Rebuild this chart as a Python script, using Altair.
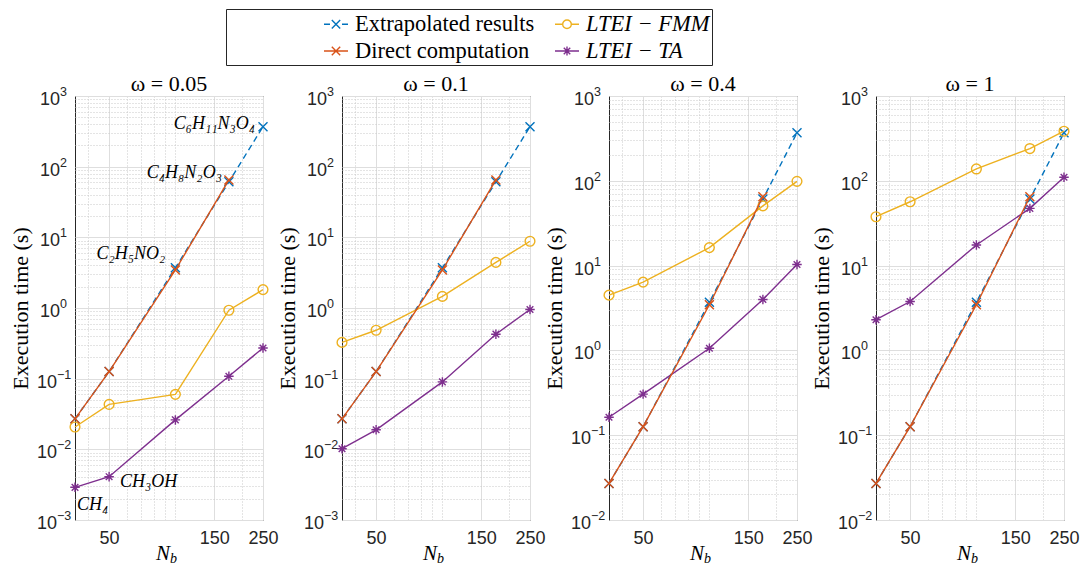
import altair as alt
import pandas as pd

# ---------------- data ----------------
nb = [35, 50, 100, 175, 250]
x_ticks = [50, 150, 250]
x_minor = [40, 60, 70, 80, 90, 100, 200]
molecules = ["CH₄", "CH₃OH", "C₂H₅NO₂", "C₄H₈N₂O₃", "C₆H₁₁N₃O₄"]
omegas = ["0.05", "0.1", "0.4", "1"]
y_exponents = [[-3, -2, -1, 0, 1, 2, 3], [-3, -2, -1, 0, 1, 2, 3],
               [-2, -1, 0, 1, 2, 3], [-2, -1, 0, 1, 2, 3]]
series_names = ["Extrapolated results", "Direct computation", "LTEI − FMM", "LTEI − TA"]

extrapolated = [0.027, 0.126, 3.7, 61, 368]
direct = [0.027, 0.126, 3.45, 65]

fmm_005 = [0.0207, 0.0432, 0.060, 0.93, 1.82]
fmm_01 = [0.326, 0.484, 1.46, 4.42, 8.8]
fmm_04 = [4.48, 6.38, 16.3, 50.6, 98.6]
fmm_1 = [37.7, 56.6, 138, 240, 384]

ta_005 = [0.0029, 0.0041, 0.0261, 0.108, 0.272]
ta_01 = [0.0102, 0.0189, 0.090, 0.426, 0.953]
ta_04 = [0.163, 0.305, 1.06, 3.99, 10.3]
ta_1 = [2.3, 3.77, 17.5, 47.3, 110]

fmm_all = [fmm_005, fmm_01, fmm_04, fmm_1]
ta_all = [ta_005, ta_01, ta_04, ta_1]

# ---------------- style ----------------
BLUE, RED, YEL, PUR = "#0072BD", "#D95319", "#EDB120", "#7E2F8E"
W, H = 188, 424
SERIF = "Liberation Serif"
SANS = "Liberation Sans"
LABEL_COLOR = "#262626"

X_PATH = "M-1,-1L1,1M-1,1L1,-1"
STAR_PATH = "M-1,0L1,0M0,-1L0,1M-0.7,-0.7L0.7,0.7M-0.7,0.7L0.7,-0.7"
legend_paths = [
    "M-1,0H-0.5M0.5,0H1M-0.35,-0.35L0.35,0.35M-0.35,0.35L0.35,-0.35",
    "M-1,0H1M-0.35,-0.35L0.35,0.35M-0.35,0.35L0.35,-0.35",
    "M-1,0H-0.36M0.36,0H1M-0.36,0A0.36,0.36 0 1,0 0.36,0A0.36,0.36 0 1,0 -0.36,0",
    "M-1,0H1M-0.38,0L0.38,0M0,-0.38L0,0.38M-0.27,-0.27L0.27,0.27M-0.27,0.27L0.27,-0.27",
]
legend_colors = [BLUE, RED, YEL, PUR]

x_major_test = " || ".join(f"datum.value == {v}" for v in x_ticks)
dec_test = "abs(log(datum.value)/LN10 - round(log(datum.value)/LN10)) < 1e-6"


def x_axis():
    return alt.Axis(
        values=sorted(x_ticks + x_minor),
        labelExpr=f"({x_major_test}) ? format(datum.value, 'd') : ''",
        title=None, ticks=False, domain=False, labelFlush=False, labelOverlap=False,
        labelPadding=9, grid=True,
        gridDash={"condition": {"test": x_major_test, "value": []}, "value": [1, 2]},
        gridColor={"condition": {"test": x_major_test, "value": "#dedede"}, "value": "#c8c8c8"},
    )


def y_axis(exps):
    vals = [k * 10.0 ** e for e in exps[:-1] for k in range(1, 10)] + [10.0 ** exps[-1]]
    return alt.Axis(
        values=vals, labels=False,
        title="Execution time (s)", titlePadding=43,
        ticks=False, domain=False,
        grid=True,
        gridDash={"condition": {"test": dec_test, "value": []}, "value": [1, 2]},
        gridColor={"condition": {"test": dec_test, "value": "#dedede"}, "value": "#c8c8c8"},
    )


leg = alt.Legend(
    orient="none", legendX=151, legendY=-87, columns=2,
    title="MMMMM", titleOrient="left", titleFontSize=20, titleFont=SERIF, titleOpacity=0,
    titlePadding=0,
    symbolSize=576, symbolStrokeWidth=1.4, symbolOpacity=1,
    labelFont=SERIF, labelFontSize=22.5, labelLimit=0, labelColor="black", labelOffset=6,
    labelFontStyle={"expr": "indexof(datum.label, 'LTEI') >= 0 ? 'italic' : 'normal'"},
    strokeColor="#262626", fillColor="white", padding=2, rowPadding=2, columnPadding=17,
)


def panel(i):
    exps = y_exponents[i]
    lo = 10.0 ** exps[0]
    X = alt.X("nb:Q", scale=alt.Scale(type="log", domain=[35, 250], nice=False), axis=x_axis())
    Y = alt.Y("t:Q", scale=alt.Scale(type="log", domain=[lo, 1000], nice=False), axis=y_axis(exps))

    d_ext = pd.DataFrame({"nb": nb, "t": extrapolated, "series": series_names[0]})
    d_dir = pd.DataFrame({"nb": nb[:4], "t": direct, "series": series_names[1]})
    d_fmm = pd.DataFrame({"nb": nb, "t": fmm_all[i], "series": series_names[2]})
    d_ta = pd.DataFrame({"nb": nb, "t": ta_all[i], "series": series_names[3]})
    d_all = pd.concat([d_ext, d_dir, d_fmm, d_ta])

    layers = []
    for df, col, shp, size, dash in [
        (d_ext, BLUE, X_PATH, 81, [6, 4]),
        (d_fmm, YEL, "circle", 95, None),
        (d_ta, PUR, STAR_PATH, 90, None),
        (d_dir, RED, X_PATH, 81, None),
    ]:
        lk = dict(color=col, strokeWidth=1.4)
        if dash:
            lk["strokeDash"] = dash
        base = alt.Chart(df).encode(x=X, y=Y)
        layers.append(base.mark_line(**lk))
        layers.append(base.mark_point(shape=shp, color=col, size=size, filled=False,
                                      strokeWidth=1.4, opacity=1))

    # legend carrier (invisible marks, visible legend)
    layers.append(
        alt.Chart(d_all).mark_point(opacity=0, filled=False).encode(
            x=X, y=Y,
            color=alt.Color("series:N", scale=alt.Scale(domain=series_names, range=legend_colors), legend=leg),
            shape=alt.Shape("series:N", scale=alt.Scale(domain=series_names, range=legend_paths), legend=leg),
        )
    )

    # y tick labels 10^e drawn as base + superscript
    for neg in (True, False):
        es = [e for e in exps if (e < 0) == neg]
        dfl = pd.DataFrame({"t": [10.0 ** e for e in es],
                            "base": ["10"] * len(es),
                            "exp": [str(e).replace("-", "−") for e in es]})
        xr = -18 if neg else -15
        layers.append(
            alt.Chart(dfl).mark_text(font=SANS, fontSize=18, align="right", baseline="middle",
                                     dy=4, color=LABEL_COLOR)
            .encode(x=alt.value(xr), y=Y, text="base:N")
        )
        layers.append(
            alt.Chart(dfl).mark_text(font=SANS, fontSize=12.5, align="left", baseline="middle",
                                     dy=-4, color=LABEL_COLOR)
            .encode(x=alt.value(xr), y=Y, text="exp:N")
        )

    if i == 0:
        ann = [
            (0, ta_005[0], "left", 2, 18),
            (1, ta_005[1], "left", 11, 5),
            (2, direct[2], "right", -10, -16),
            (3, extrapolated[3], "right", -7, -9),
            (4, extrapolated[4], "right", -8, -3),
        ]
        for k, yv, al, dx, dy in ann:
            dft = pd.DataFrame({"nb": [nb[k]], "t": [yv], "label": [molecules[k]]})
            layers.append(
                alt.Chart(dft).mark_text(font=SERIF, fontStyle="italic", fontSize=18, align=al,
                                         baseline="middle", dx=dx, dy=dy, color="black")
                .encode(x=X, y=Y, text="label:N")
            )

    layers.append(
        alt.Chart(pd.DataFrame({"s": ["N"]})).mark_text(
            font=SERIF, fontStyle="italic", fontSize=21, align="right", baseline="alphabetic", color="black"
        ).encode(x=alt.value(W / 2 + 1), y=alt.value(H + 40), text="s:N")
    )
    layers.append(
        alt.Chart(pd.DataFrame({"s": ["b"]})).mark_text(
            font=SERIF, fontStyle="italic", fontSize=14, align="left", baseline="alphabetic", color="black"
        ).encode(x=alt.value(W / 2 + 1), y=alt.value(H + 43), text="s:N")
    )

    return alt.layer(*layers).properties(
        width=W, height=H,
        title=alt.TitleParams(f"ω = {omegas[i]}", font=SERIF, fontSize=22, fontWeight="normal",
                              color="black", offset=-10),
    )


chart = (
    alt.hconcat(*[panel(i) for i in range(4)], spacing=79, bounds="flush")
    .properties(padding={"left": 0, "top": 0, "right": 0, "bottom": 0},
                autosize=alt.AutoSizeParams(type="pad"))
    .configure_view(stroke="#262626", strokeWidth=1)
    .configure_axis(labelFont=SANS, labelFontSize=18, labelColor=LABEL_COLOR,
                    titleFont=SERIF, titleFontSize=22, titleFontWeight="normal", titleColor="black")
)

chart.save("out.html", embed_options={"renderer": "svg", "actions": False})
